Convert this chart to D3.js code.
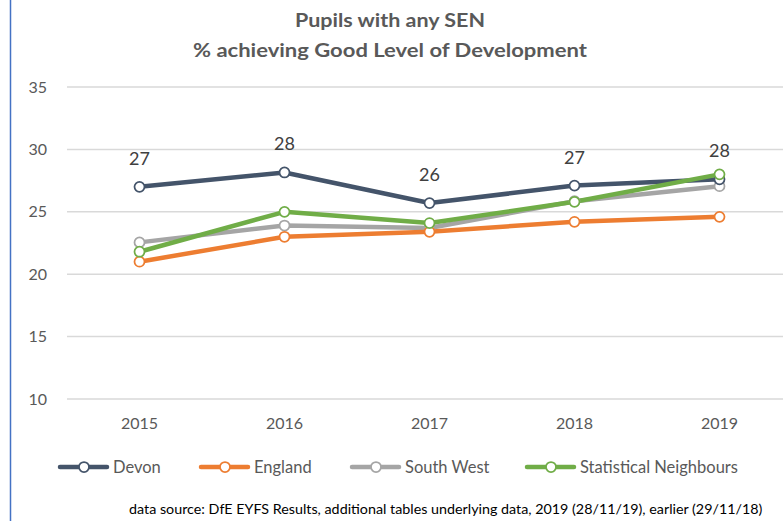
<!DOCTYPE html>
<html><head><meta charset="utf-8">
<script src="https://cdn.jsdelivr.net/npm/d3@7"></script>
<style>html,body{margin:0;padding:0;background:#fff;overflow:hidden}svg{display:block}</style>
</head><body><div id="chart"></div>
<script>
const years = ["2015","2016","2017","2018","2019"];
const devon = [27.0, 28.15, 25.7, 27.1, 27.6];
const england = [21.0, 23.0, 23.4, 24.2, 24.6];
const southWest = [22.55, 23.9, 23.7, 25.85, 27.05];
const statNeighbours = [21.8, 25.0, 24.1, 25.8, 28.0];
const devonLabels = ["27","28","26","27","28"];
const yTicks = [10,15,20,25,30,35];
const seriesNames = ["Devon","England","South West","Statistical Neighbours"];
const seriesColors = ["#44546A","#ED7D31","#A5A5A5","#70AD47"];
const titleLines = ["Pupils with any SEN","% achieving Good  Level of Development"];
const footerText = "data source: DfE EYFS Results, additional tables underlying data, 2019 (28/11/19), earlier (29/11/18)";

const W = 783, H = 521;
const font = "Lato, 'Open Sans', sans-serif";
const svg = d3.select("#chart").append("svg").attr("width", W).attr("height", H);

svg.append("line").attr("x1",10.5).attr("x2",10.5).attr("y1",0).attr("y2",H)
  .attr("stroke","#4472C4").attr("stroke-width",1.5);

const x = d3.scaleBand().domain(years).range([67, 792]);
const y = d3.scaleLinear().domain([10,35]).range([399, 87]);

svg.append("g").selectAll("line").data(yTicks).join("line")
  .attr("x1",67).attr("x2",W).attr("y1",d=>y(d)).attr("y2",d=>y(d))
  .attr("stroke","#D9D9D9").attr("stroke-width",1.5);

const yAxis = svg.append("g").attr("transform","translate(55,0)")
  .call(d3.axisLeft(y).tickValues(yTicks).tickSize(0).tickPadding(8));
yAxis.select(".domain").remove();
yAxis.selectAll("text").attr("fill","#595959").style("font-size","16px").style("font-family",font);

const xAxis = svg.append("g").attr("transform","translate(0,414)")
  .call(d3.axisBottom(x).tickSize(0).tickPadding(4));
xAxis.select(".domain").remove();
xAxis.selectAll("text").attr("fill","#595959").style("font-size","16px").style("font-family",font);

const allSeries = [devon, england, southWest, statNeighbours];
const line = d3.line().x((d,i)=>x(years[i])+x.bandwidth()/2).y(d=>y(d));
const order = [2,1,0,3];
order.forEach(si=>{
  svg.append("path").datum(allSeries[si]).attr("d",line).attr("fill","none")
    .attr("stroke",seriesColors[si]).attr("stroke-width",4.5).attr("stroke-linejoin","round");
});
order.forEach(si=>{
  svg.append("g").selectAll("circle").data(allSeries[si]).join("circle")
    .attr("cx",(d,i)=>x(years[i])+x.bandwidth()/2).attr("cy",d=>y(d)).attr("r",5)
    .attr("fill","#fff").attr("stroke",seriesColors[si]).attr("stroke-width",1.75);
});

svg.append("g").selectAll("text").data(devon).join("text")
  .attr("x",(d,i)=>x(years[i])+x.bandwidth()/2).attr("y",d=>y(d)-22)
  .attr("text-anchor","middle").attr("fill","#404040").style("font-size","18px").style("font-family",font)
  .text((d,i)=>devonLabels[i]);

const titleLens = [190, 394];
svg.append("g").selectAll("text").data(titleLines).join("text")
  .attr("x",390).attr("y",(d,i)=>27+i*30).attr("text-anchor","middle")
  .attr("textLength",(d,i)=>titleLens[i]).attr("lengthAdjust","spacingAndGlyphs")
  .attr("fill","#595959").style("font-size","19px").style("font-weight","bold").style("font-family",font)
  .text(d=>d);

const legX = [60, 201, 352, 527];
const lg = svg.append("g");
seriesNames.forEach((n,i)=>{
  const g = lg.append("g").attr("transform",`translate(${legX[i]},467)`);
  g.append("line").attr("x1",0).attr("x2",47).attr("stroke",seriesColors[i]).attr("stroke-width",4.5).attr("stroke-linecap","round");
  g.append("circle").attr("cx",24).attr("r",5).attr("fill","#fff").attr("stroke",seriesColors[i]).attr("stroke-width",1.75);
  g.append("text").attr("x",53).attr("y",6).attr("fill","#595959").style("font-size","16.5px").style("font-family",font).text(n);
});

svg.append("text").attr("x",129).attr("y",514).attr("fill","#000")
  .style("font-size","14.3px").style("font-family",font).text(footerText);
</script></body></html>
